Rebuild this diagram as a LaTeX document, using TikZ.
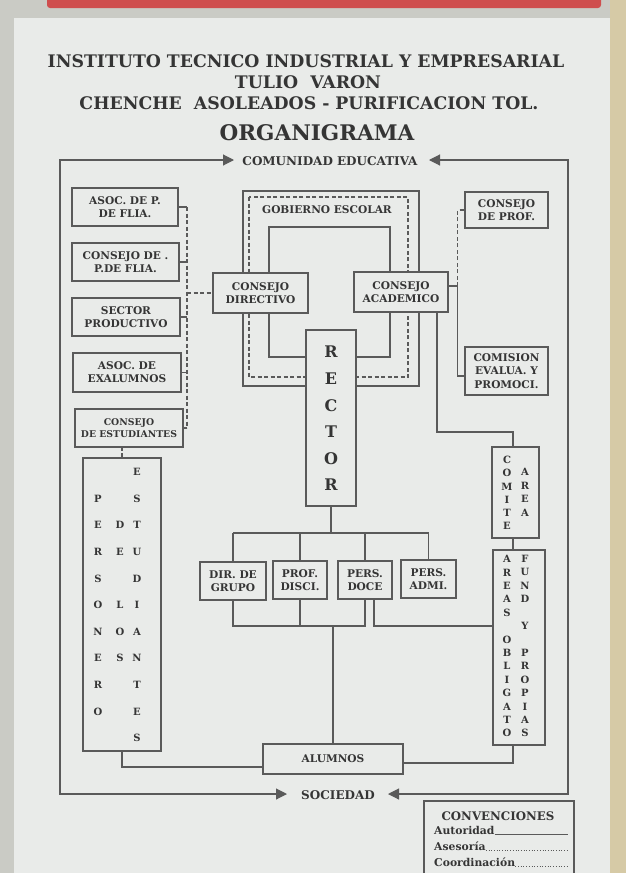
\documentclass[tikz,border=0pt]{standalone}
\usepackage{fontspec}
\setmainfont{DejaVu Serif}
\usetikzlibrary{arrows.meta,calc}
\definecolor{paper}{HTML}{E9EBE9}
\definecolor{ink}{HTML}{353535}
\definecolor{wirec}{HTML}{5A5A5A}
\definecolor{frameg}{HTML}{CACBC5}
\definecolor{frameb}{HTML}{D6CAA6}
\definecolor{redbar}{HTML}{CF4E4E}
\begin{document}
\begin{tikzpicture}[x=1pt,y=-1pt,
  box/.style={draw=wirec, line width=1.1pt, fill=paper, text=ink,
    font=\bfseries\fontsize{10.6}{13}\selectfont, align=center, inner sep=0pt},
  wire/.style={draw=wirec, line width=1.1pt},
  dwire/.style={wire, dash pattern=on 4pt off 2.5pt},
  ttl/.style={text=ink, font=\bfseries\fontsize{17.3}{20}\selectfont, inner sep=0pt},
  lbl/.style={text=ink, font=\bfseries\fontsize{12}{14}\selectfont, inner sep=0pt},
  vbig/.style={text=ink, font=\bfseries\fontsize{16}{16}\selectfont, inner sep=0pt},
  vsm/.style={text=ink, font=\bfseries\fontsize{10}{10}\selectfont, inner sep=0pt},
  vmd/.style={text=ink, font=\bfseries\fontsize{10}{10}\selectfont, inner sep=0pt},
  leg/.style={text=ink, font=\bfseries\fontsize{10.8}{12}\selectfont, inner sep=0pt, anchor=base west},
  tipb/.style={{Triangle[length=11pt,width=11pt]}-{Triangle[length=11pt,width=11pt]}}
]
\useasboundingbox (0,0) rectangle (626,873);
% photo background
\fill[frameg] (0,0) rectangle (626,873);
\fill[paper] (14,18) rectangle (610,873);
\fill[frameb] (610,0) rectangle (626,873);
\fill[redbar, rounded corners=3pt] (47,-6) rectangle (601,8);

% titles
\node[ttl] (t1) at (306,61) {INSTITUTO TECNICO INDUSTRIAL Y EMPRESARIAL};
\node[ttl] (t2) at (308,82) {TULIO\ \ VARON};
\node[ttl] (t3) at (309,103) {CHENCHE\ \ ASOLEADOS - PURIFICACION TOL.};
\node[ttl, font=\bfseries\fontsize{21.5}{24}\selectfont] (t4) at (317,133) {ORGANIGRAMA};
\node[lbl] (comu) at (330,161) {COMUNIDAD EDUCATIVA};
\node[lbl] (soc) at (338,795) {SOCIEDAD};

% outer loop
\coordinate (oltop) at (60,160);
\coordinate (olbot) at (60,794);
\coordinate (ortop) at (568,160);
\coordinate (orbot) at (568,794);
\coordinate (tipTL) at (234,160);
\coordinate (tipTR) at (429,160);
\coordinate (tipBL) at (287,794);
\coordinate (tipBR) at (388,794);
\draw[wire, tipb] (tipTL) -- (oltop) -- (olbot) -- (tipBL);
\draw[wire, tipb] (tipTR) -- (ortop) -- (orbot) -- (tipBR);

% gobierno escolar frames
\draw[wire] (243,191) rectangle (419,386);
\draw[dwire] (249,197) rectangle (408,377);
\draw[wire] (269,227) rectangle (390,357);
\node[text=ink, font=\bfseries\fontsize{10.6}{12}\selectfont, inner sep=0pt] (gob) at (327,210) {GOBIERNO ESCOLAR};

% left column
\node[box, minimum width=106, minimum height=38] (apf) at (125,207) {ASOC. DE P.\\DE FLIA.};
\node[box, minimum width=107, minimum height=38] (cpf) at (125.5,262) {CONSEJO DE .\\P.DE FLIA.};
\node[box, minimum width=108, minimum height=38] (spr) at (126,317) {SECTOR\\PRODUCTIVO};
\node[box, minimum width=108, minimum height=39] (aex) at (127,372.5) {ASOC. DE\\EXALUMNOS};
\node[box, minimum width=108, minimum height=38, font=\bfseries\fontsize{9.3}{12.5}\selectfont] (ces) at (129,428) {CONSEJO\\DE ESTUDIANTES};
\coordinate (lx) at (187,0);
\foreach \b in {apf,cpf,spr,aex,ces} \draw[wire] (\b.east) -- (\b.east -| lx);
\draw[dwire] (apf.east -| lx) -- (ces.east -| lx);

% consejos
\node[box, minimum width=95, minimum height=40] (cdi) at (260.5,293) {CONSEJO\\DIRECTIVO};
\node[box, minimum width=94, minimum height=40] (cac) at (401,292) {CONSEJO\\ACADEMICO};
\draw[dwire] (cdi.west -| lx) -- (cdi.west);

% right column
\node[box, minimum width=83, minimum height=36] (cpr) at (506.5,210) {CONSEJO\\DE PROF.};
\node[box, minimum width=83, minimum height=48, font=\bfseries\fontsize{10.6}{13.8}\selectfont] (com) at (506.5,371) {COMISION\\EVALUA. Y\\PROMOCI.};
\draw[wire] ([yshift=6pt]cac.east) -- ++(9,0) coordinate (k2);
\draw[dwire] (k2) |- (cpr.west);
\draw[wire] (k2) |- ([yshift=-5pt]com.west);

% rector
\node[box, minimum width=50, minimum height=176] (rec) at (331,418) {};
\foreach \l [count=\i from 0] in {R,E,C,T,O,R}
  \node[vbig] (rec-\i) at (331,{352+26.6*\i}) {\l};

% personero de los estudiantes
\node[box, minimum width=78, minimum height=293] (pdl) at (122,604.5) {};
\foreach \l [count=\i from 1] in {P,E,R,S,O,N,E,R,O}
  \node[vsm] (pa-\i) at (98,{472+26.6*\i}) {\l};
\foreach \l/\k in {D/2,E/3,L/5,O/6,S/7}
  \node[vsm] (pb-\k) at (120,{472+26.6*\k}) {\l};
\foreach \l [count=\i from 0] in {E,S,T,U,D,I,A,N,T,E,S}
  \node[vsm] (pc-\i) at (137,{472+26.6*\i}) {\l};
\draw[dwire] (pdl.north) -- (pdl.north |- ces.south);

% comite de area
\coordinate (rx) at (513,0);
\node[box, minimum width=47, minimum height=91] (cmt) at (515.5,492.5) {};
\foreach \l [count=\i from 0] in {C,O,M,I,T,E}
  \node[vmd] (ca-\i) at (507,{460+13.2*\i}) {\l};
\foreach \l [count=\i from 0] in {A,R,E,A}
  \node[vmd] (cb-\i) at (525,{472+13.5*\i}) {\l};
\coordinate (k1) at (437,432);
\draw[wire] (cac.south -| k1) -- (k1) -- (k1 -| rx) -- (cmt.north -| rx);

% areas
\node[box, minimum width=52, minimum height=195] (are) at (519,647.5) {};
\foreach \l/\k in {A/0,R/1,E/2,A/3,S/4,O/6,B/7,L/8,I/9,G/10,A/11,T/12,O/13}
  \node[vmd] (aa-\k) at (507,{559+13.4*\k}) {\l};
\foreach \l/\k in {F/0,U/1,N/2,D/3,Y/5,P/7,R/8,O/9,P/10,I/11,A/12,S/13}
  \node[vmd] (ab-\k) at (525,{559+13.4*\k}) {\l};
\draw[wire] (cmt.south -| rx) -- (are.north -| rx);

% staff boxes
\node[box, minimum width=66, minimum height=38] (dir) at (233,581) {DIR. DE\\GRUPO};
\node[box, minimum width=54, minimum height=38] (pro) at (300,580) {PROF.\\DISCI.};
\node[box, minimum width=54, minimum height=38] (doc) at (365,580) {PERS.\\DOCE};
\node[box, minimum width=55, minimum height=38] (adm) at (428.5,579) {PERS.\\ADMI.};
\coordinate (bus) at (0,533);
\draw[wire] (rec.south) -- (rec.south |- bus);
\draw[wire] (dir.north |- bus) -- (adm.north |- bus);
\foreach \b in {dir,pro,doc,adm} \draw[wire] (\b.north |- bus) -- (\b.north);

% alumnos
\node[box, minimum width=140, minimum height=30] (alu) at (333,759) {ALUMNOS};
\coordinate (low) at (0,626);
\draw[wire] (dir.south) -- (dir.south |- low) -- (doc.south |- low) -- (doc.south);
\draw[wire] (pro.south) -- (pro.south |- low);
\draw[wire] (alu.north) -- (alu.north |- low);
\draw[wire] ([xshift=9pt]doc.south) |- (are.west |- low);
\draw[wire] (pdl.south) |- ([yshift=-8pt]alu.west);
\draw[wire] (are.south -| rx) |- ([yshift=-4pt]alu.east);

% legend
\draw[wire] (424,880) -- (424,801) -- (574,801) -- (574,880);
\node[text=ink, font=\bfseries\fontsize{11.8}{13}\selectfont, inner sep=0pt] (conv) at (498,816) {CONVENCIONES};
\node[leg] (aut) at (434,834) {Autoridad};
\node[leg] (ase) at (434,850) {Asesoría};
\node[leg] (coo) at (434,866) {Coordinación};
\draw[wirec, line width=0.6pt] (aut.base east) -- (568,834);
\draw[wirec, line width=0.7pt, dotted] (ase.base east) -- (568,850);
\draw[wirec, line width=0.7pt, dotted] (coo.base east) -- (568,866);
\end{tikzpicture}
\end{document}
